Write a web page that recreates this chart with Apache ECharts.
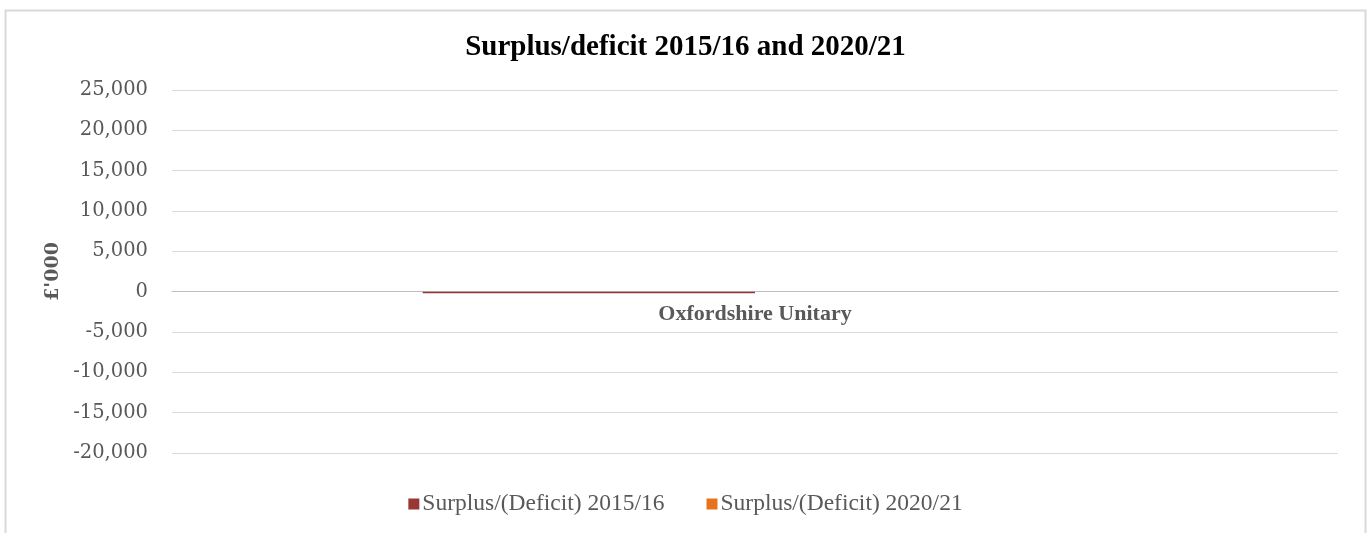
<!DOCTYPE html>
<html>
<head>
<meta charset="utf-8">
<script src="https://cdn.jsdelivr.net/npm/echarts@6/dist/echarts.min.js"></script>
<style>
html,body{margin:0;padding:0;background:#fff;}
#chart{width:1371px;height:533px;}
</style>
</head>
<body>
<div id="chart"></div>
<script>
const categories = ['Oxfordshire Unitary'];
const seriesNames = ['Surplus/(Deficit) 2015/16', 'Surplus/(Deficit) 2020/21'];
const surplus201516 = [-200];
const surplus202021 = [0];
const yTicks = { min: -20000, max: 25000, interval: 5000 };

const gridTop = 90, gridBottomY = 453;
const zeroY = gridTop + (gridBottomY - gridTop) * yTicks.max / (yTicks.max - yTicks.min);

const chart = echarts.init(document.getElementById('chart'));
const option = {
  backgroundColor: '#ffffff',
  animation: false,
  title: {
    text: 'Surplus/deficit 2015/16 and 2020/21',
    left: 'center',
    top: 28,
    textStyle: { fontFamily: 'Liberation Serif', fontWeight: 'bold', fontSize: 29, color: '#000000' }
  },
  graphic: [{
    type: 'rect',
    shape: { x: 5.5, y: 10.5, width: 1360, height: 540 },
    style: { fill: 'none', stroke: '#d9d9d9', lineWidth: 2 },
    silent: true
  }],
  legend: {
    bottom: 12,
    left: 'center',
    icon: 'rect',
    itemWidth: 11,
    itemHeight: 11,
    itemGap: 42,
    textStyle: { fontFamily: 'Liberation Serif', fontSize: 23.5, color: '#595959', padding: [0, 0, 0, -2] },
    data: seriesNames
  },
  grid: { left: 172, right: 33, top: gridTop, bottom: 533 - gridBottomY, containLabel: false },
  xAxis: {
    type: 'category',
    data: categories,
    offset: -(gridBottomY - zeroY),
    axisLine: { onZero: false, lineStyle: { color: '#bfbfbf', width: 1 } },
    axisTick: { show: false },
    axisLabel: { margin: 12, fontFamily: 'Liberation Serif', fontWeight: 'bold', fontSize: 22, color: '#595959' }
  },
  yAxis: {
    type: 'value',
    min: yTicks.min,
    max: yTicks.max,
    interval: yTicks.interval,
    name: "£'000",
    nameLocation: 'middle',
    nameGap: 106,
    nameTextStyle: { fontFamily: 'DejaVu Serif', fontWeight: 'bold', fontSize: 19, color: '#595959' },
    axisLine: { show: false },
    axisTick: { show: false },
    splitLine: { lineStyle: { color: '#d9d9d9', width: 1 } },
    axisLabel: {
      margin: 24,
      fontFamily: 'DejaVu Serif',
      fontSize: 19.5,
      color: '#595959',
      formatter: v => v.toLocaleString('en-GB')
    }
  },
  series: [
    { name: seriesNames[0], type: 'bar', data: surplus201516, itemStyle: { color: '#983734' }, barGap: '0%', barCategoryGap: '43%' },
    { name: seriesNames[1], type: 'bar', data: surplus202021, itemStyle: { color: '#e8731e' }, barGap: '0%', barCategoryGap: '43%' }
  ]
};
chart.setOption(option);
</script>
</body>
</html>
